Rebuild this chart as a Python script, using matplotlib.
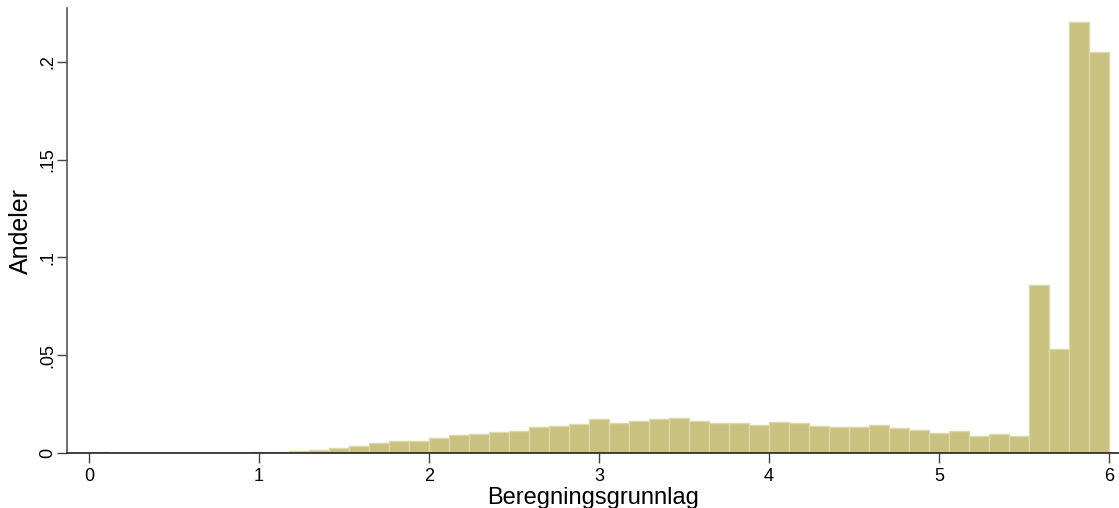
import numpy as np
import matplotlib
matplotlib.use("Agg")
import matplotlib.pyplot as plt

plt.rcParams['font.family'] = ['Liberation Sans', 'DejaVu Sans']

# histogram: 51 bins from 0 to 6
bin_lo = 0.0
bin_hi = 6.0
n_bins = 51
shares = [0.0005, 0.0, 0.0, 0.0, 0.0, 0.0, 0.0, 0.0, 0.0005, 0.0004,
          0.0010, 0.0013, 0.0027, 0.0037, 0.0051, 0.0060, 0.0060, 0.0075, 0.0092, 0.0097,
          0.0107, 0.0112, 0.0132, 0.0137, 0.0147, 0.0174, 0.0153, 0.0163, 0.0173, 0.0179,
          0.0166, 0.0152, 0.0151, 0.0143, 0.0160, 0.0151, 0.0140, 0.0135, 0.0135, 0.0142,
          0.0130, 0.0120, 0.0100, 0.0110, 0.0089, 0.0096, 0.0089, 0.0859, 0.0532, 0.2205,
          0.2051]

xticks = [0, 1, 2, 3, 4, 5, 6]
yticks = [0, 0.05, 0.1, 0.15, 0.2]
ytick_labels = ["0", ".05", ".1", ".15", ".2"]

edges = np.linspace(bin_lo, bin_hi, n_bins + 1)
width = edges[1] - edges[0]

fig = plt.figure(figsize=(11.19, 5.08), dpi=100)
ax = fig.add_axes([67 / 1119, 1 - 453 / 508, 1 - 67 / 1119, (453 - 8) / 508])

ax.bar(edges[:-1], shares, width=width, align='edge',
       color='#c8c17f', edgecolor='#dcd8aa', linewidth=1.0)

ax.set_xlim(-0.13, 6.06)
ax.set_ylim(0, 0.2276)

for s in ['top', 'right']:
    ax.spines[s].set_visible(False)
ax.spines['left'].set_color('#555555')
ax.spines['bottom'].set_color('#222222')
ax.spines['left'].set_linewidth(1.2)
ax.spines['bottom'].set_linewidth(1.2)

ax.set_xticks(xticks)
ax.set_xticklabels([str(t) for t in xticks])
ax.set_yticks(yticks)
ax.set_yticklabels(ytick_labels, rotation=90, va='center')
ax.tick_params(axis='both', length=7, width=1, color='#444444', labelsize=13)
ax.tick_params(axis='x', pad=4)
ax.tick_params(axis='y', pad=1)

ax.set_xlabel("Beregningsgrunnlag", fontsize=17, labelpad=1)
ax.set_ylabel("Andeler", fontsize=18, labelpad=4)

fig.savefig("out.png", dpi=100)
